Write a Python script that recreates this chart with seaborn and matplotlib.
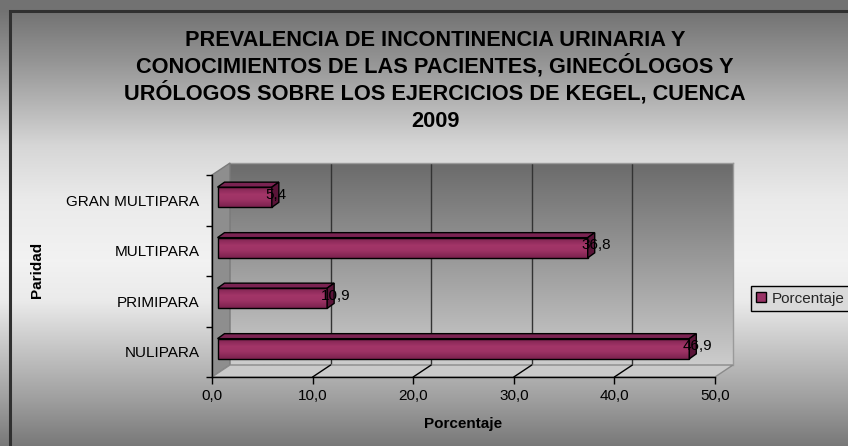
import numpy as np
import pandas as pd
import matplotlib
matplotlib.use("Agg")
import matplotlib.pyplot as plt
import seaborn as sns
from matplotlib import transforms as mtrans
from matplotlib.patches import Polygon, Patch

# ---------------- data ----------------
categories = ["GRAN MULTIPARA", "MULTIPARA", "PRIMIPARA", "NULIPARA"]
values = [5.4, 36.8, 10.9, 46.9]
value_labels = ["5,4", "36,8", "10,9", "46,9"]
x_ticks = [0, 10, 20, 30, 40, 50]
x_tick_labels = ["0,0", "10,0", "20,0", "30,0", "40,0", "50,0"]
title_lines = [
    "PREVALENCIA DE INCONTINENCIA URINARIA Y",
    "CONOCIMIENTOS DE LAS PACIENTES, GINECÓLOGOS Y",
    "URÓLOGOS SOBRE LOS EJERCICIOS DE KEGEL, CUENCA",
    "2009",
]
series_name = "Porcentaje"
x_label = "Porcentaje"
y_label = "Paridad"

# ---------------- setup ----------------
W, H, DPI = 848, 446, 100
sns.set_theme(style="white")
plt.rcParams["font.family"] = ["Liberation Sans", "DejaVu Sans"]

fig = plt.figure(figsize=(W / DPI, H / DPI), dpi=DPI)
fig.patch.set_facecolor("white")

# background gradient of the chart area
bg = fig.add_axes([0, 0, 1, 1], zorder=-10)
bg.set_xlim(0, W)
bg.set_ylim(H, 0)
bg.set_axis_off()
rows = np.arange(H)
shade = np.interp(rows, [11, 60, 100, 145, 200, 260, 300, 346, 400, 446],
                  [0.45, 0.58, 0.70, 0.84, 0.92, 0.95, 0.92, 0.78, 0.62, 0.47])
bg.imshow(np.repeat(shade[:, None, None], 3, axis=2), extent=(0, W, H, 0),
          aspect="auto", interpolation="bilinear")
bg.plot([9.5, 9.5, W + 5], [H + 5, 11, 11], color="#303030", lw=2.2,
        solid_joinstyle="miter")

# front plane geometry (pixels)
fx0, fx1, fy_top, fy_bot = 212, 715, 175, 377
DX, DY = 18, 12
rect_front = [fx0 / W, (H - fy_bot) / H, (fx1 - fx0) / W, (fy_bot - fy_top) / H]
rect_back = [rect_front[0] + DX / W, rect_front[1] + DY / H, rect_front[2], rect_front[3]]

# back wall
bax = fig.add_axes(rect_back, zorder=-5)
wall = np.linspace(0.42, 0.80, 200)
bax.imshow(np.repeat(wall[:, None, None], 3, axis=2), extent=(0, 50, 0, 1),
           aspect="auto", interpolation="bilinear")
bax.set_xlim(0, 50)
bax.set_ylim(0, 1)
for t in x_ticks[1:-1]:
    bax.axvline(t, color="#333333", lw=1)
bax.set_xticks([])
bax.set_yticks([])
for s in ["left", "bottom"]:
    bax.spines[s].set_visible(False)
for s in ["top", "right"]:
    bax.spines[s].set_color("#9a9a9a")
    bax.spines[s].set_linewidth(1)

# side wall and floor (pixel coordinates, bottom-up)
ov = fig.add_axes([0, 0, 1, 1], zorder=-2)
ov.set_xlim(0, W)
ov.set_ylim(0, H)
ov.set_axis_off()
ov.patch.set_alpha(0)
yb, yt = H - fy_bot, H - fy_top
ov.add_patch(Polygon([(fx0, yt), (fx0, yb), (fx0 + DX, yb + DY), (fx0 + DX, yt + DY)],
                     closed=True, facecolor="#8e8e8e", edgecolor="#7a7a7a", lw=1))
ov.add_patch(Polygon([(fx0, yb), (fx1, yb), (fx1 + DX, yb + DY), (fx0 + DX, yb + DY)],
                     closed=True, facecolor="#cacaca", edgecolor="#8a8a8a", lw=1))

# ---------------- main (front) axes ----------------
ax = fig.add_axes(rect_front, zorder=0)
ax.patch.set_alpha(0)
df = pd.DataFrame({y_label: categories, x_label: values})
sns.barplot(data=df, x=x_label, y=y_label, order=categories, orient="h",
            width=0.4, color="#993366", saturation=1, edgecolor="black",
            linewidth=1, ax=ax)
ax.set_xlim(0, 50)
ax.set_ylim(3.5, -0.5)

# floor grid lines from the front ticks to the back wall
for t in x_ticks[1:-1]:
    px = ax.transData.transform((t, 3.5))[0]
    ov.plot([px, px + DX], [yb, yb + DY], color="black", lw=1)

shift = mtrans.ScaledTranslation(5.5 / DPI, 3 / DPI, fig.dpi_scale_trans)
grad = np.interp(np.linspace(0, 1, 60), [0, 0.12, 0.4, 0.65, 1.0], [0, 0.55, 1.0, 0.9, 0.35])
dark = np.array([0.40, 0.09, 0.25])
light = np.array([0.64, 0.21, 0.41])
bar_img = dark[None, :] + grad[:, None] * (light - dark)[None, :]
bar_img = bar_img[:, None, :]
BDX, BDY = 7, 5
fig.canvas.draw()
for p in list(ax.patches):
    p.set_transform(ax.transData + shift)
    x, y, w, h = p.get_x(), p.get_y(), p.get_width(), p.get_height()
    im = ax.imshow(bar_img, extent=(x, x + w, y + h, y), aspect="auto",
                   interpolation="bilinear", zorder=2)
    im.set_transform(ax.transData + shift)
    im.set_clip_path(p)
    p.set_facecolor("none")
    p.set_zorder(3)
    bb = p.get_window_extent()
    ident = mtrans.IdentityTransform()
    ax.add_patch(Polygon([(bb.x0, bb.y1), (bb.x1, bb.y1), (bb.x1 + BDX, bb.y1 + BDY),
                          (bb.x0 + BDX, bb.y1 + BDY)], closed=True, transform=ident,
                         facecolor="#7a2352", edgecolor="black", lw=1, zorder=3,
                         clip_on=False))
    ax.add_patch(Polygon([(bb.x1, bb.y0), (bb.x1, bb.y1), (bb.x1 + BDX, bb.y1 + BDY),
                          (bb.x1 + BDX, bb.y0 + BDY)], closed=True, transform=ident,
                         facecolor="#5a1438", edgecolor="black", lw=1, zorder=3,
                         clip_on=False))
ax.set_xlim(0, 50)
ax.set_ylim(3.5, -0.5)

# data labels
lab_shift = mtrans.ScaledTranslation(-1 / DPI, 5.5 / DPI, fig.dpi_scale_trans)
for i, (v, s) in enumerate(zip(values, value_labels)):
    ax.text(v, i, s, ha="left", va="center", fontsize=11, color="black",
            transform=ax.transData + lab_shift, zorder=5)

# axes styling
for s in ["top", "right"]:
    ax.spines[s].set_visible(False)
for s in ["left", "bottom"]:
    ax.spines[s].set_color("black")
    ax.spines[s].set_linewidth(1)
ax.set_xticks(x_ticks)
ax.set_xticklabels(x_tick_labels)
ax.tick_params(axis="x", direction="out", length=5, width=1, color="black",
               labelsize=11, labelcolor="black", pad=4, bottom=True)
ax.set_yticks([-0.5, 0.5, 1.5, 2.5, 3.5])
ax.set_yticklabels([])
ax.set_yticks(range(len(categories)), minor=True)
ax.set_yticklabels(categories, minor=True)
ax.tick_params(axis="y", which="major", direction="out", length=4, width=1,
               color="black", left=True)
ax.tick_params(axis="y", which="minor", length=0, labelsize=11,
               labelcolor="black", pad=9)
ax.set_xlabel("")
ax.set_ylabel("")
ax.grid(False)

# axis titles
fig.text(463.5 / W, 1 - 424 / H, x_label, ha="center", va="center",
         fontsize=11, fontweight="bold", color="black")
fig.text(37.5 / W, 1 - 270 / H, y_label, ha="center", va="center", rotation=90,
         fontsize=11, fontweight="bold", color="black")

# chart title
for k, line in enumerate(title_lines):
    fig.text(435 / W, 1 - (45.7 + 27.1 * k) / H, line, ha="center", va="baseline",
             fontsize=15.7, fontweight="bold", color="black")

# legend
leg = ax.legend(handles=[Patch(facecolor="#993366", edgecolor="black", label=series_name)],
                loc="center left", bbox_to_anchor=(750.7 / W, 1 - 298.5 / H),
                bbox_transform=fig.transFigure, frameon=True, fancybox=False,
                edgecolor="black", facecolor="#dadada", framealpha=1,
                fontsize=11, borderpad=0.35, handlelength=0.65, handleheight=0.65,
                handletextpad=0.4, borderaxespad=0)
leg.get_frame().set_linewidth(1)

fig.savefig("out.png", dpi=DPI)
